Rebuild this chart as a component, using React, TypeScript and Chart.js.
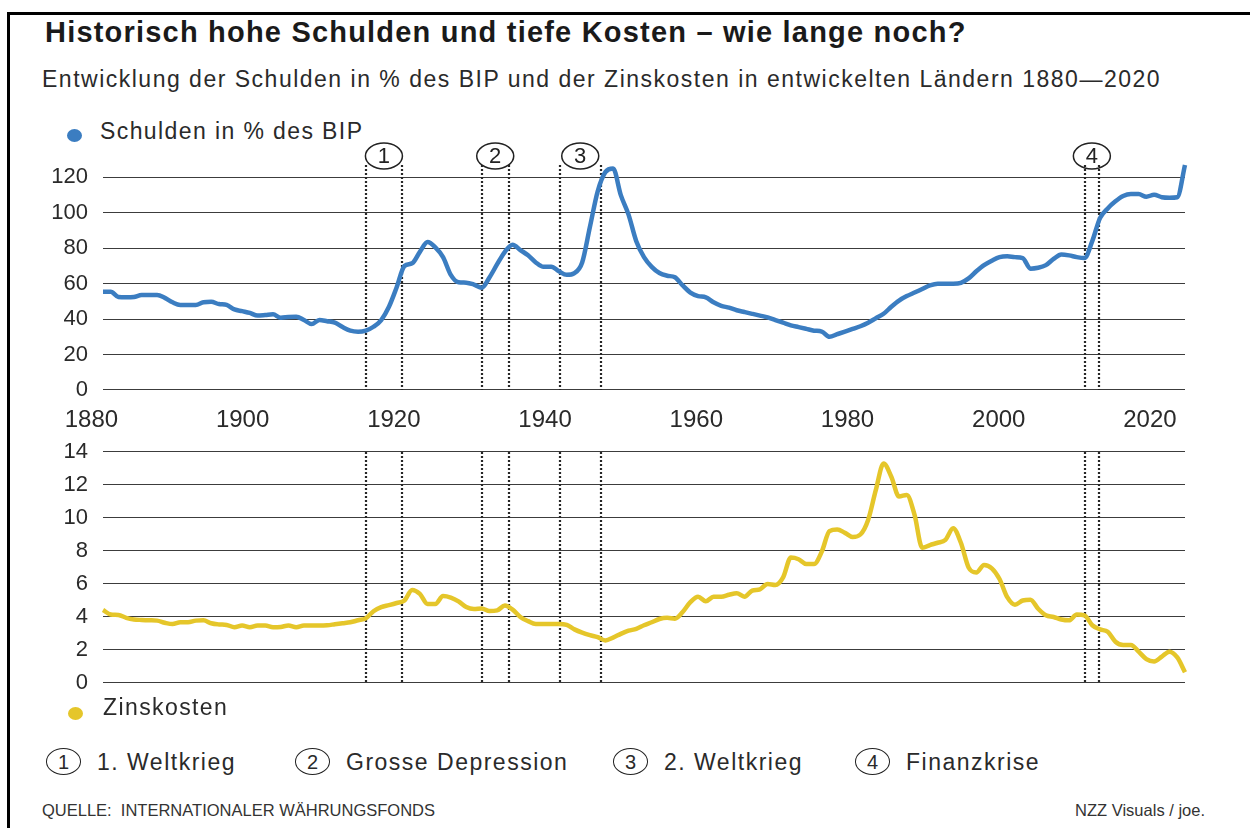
import React, { useEffect, useRef } from "react";
import { Chart, registerables } from "chart.js";

Chart.register(...registerables);

if (typeof document !== "undefined") document.body.style.margin = "0";

const FONT = '"Liberation Sans", Arial, sans-serif';
const BLUE = "#3b7dc1";
const YELLOW = "#e5c62a";
const GRID = "#3c3c3c";
const TEXT = "#2a2a2a";

// ---- data (annual values, 1880 – 2020) ----
const FIRST_YEAR = 1880;

const DEBT_PCT_GDP = [
  // 1880-1889
  55.5, 55.5, 52.5, 52.3, 52.5, 53.6, 53.6, 53.6, 52.0, 49.5,
  // 1890-1899
  48.0, 48.0, 48.0, 49.5, 49.8, 48.5, 48.0, 45.5, 44.5, 43.5,
  // 1900-1909
  42.0, 42.3, 42.7, 40.8, 41.2, 41.4, 39.5, 37.2, 39.5, 38.8,
  // 1910-1919
  38.0, 35.5, 33.5, 32.9, 33.5, 35.7, 39.5, 47.0, 58.0, 70.0,
  // 1920-1929
  71.5, 78.0, 83.5, 80.5, 75.0, 65.0, 60.8, 60.6, 59.5, 57.7,
  // 1930-1939
  63.5, 71.0, 78.0, 82.0, 79.0, 76.0, 72.0, 69.5, 69.6, 67.0,
  // 1940-1949
  65.0, 66.0, 72.0, 92.0, 112.0, 123.0, 125.0, 110.0, 99.0, 84.0,
  // 1950-1959
  75.0, 69.5, 66.0, 64.5, 63.6, 59.0, 55.0, 53.0, 52.3, 49.5,
  // 1960-1969
  47.5, 46.5, 45.0, 44.0, 43.0, 42.0, 41.0, 39.5, 38.0, 36.5,
  // 1970-1979
  35.5, 34.5, 33.5, 33.0, 30.0, 31.5, 33.0, 34.5, 36.0, 38.0,
  // 1980-1989
  40.5, 43.0, 47.0, 50.5, 53.0, 55.0, 57.0, 59.0, 60.0, 60.0,
  // 1990-1999
  60.0, 60.5, 63.0, 67.0, 70.5, 73.0, 75.0, 75.5, 75.0, 74.5,
  // 2000-2009
  68.5, 69.0, 70.5, 74.0, 76.5, 76.0, 75.0, 74.5, 84.0, 97.0,
  // 2010-2019
  102.5, 106.5, 109.5, 110.6, 110.6, 109.1, 110.2, 108.8, 108.5, 108.8,
  // 2020
  127.0,
];

const INTEREST_COST = [
  // 1880-1889
  4.42, 4.15, 4.12, 3.95, 3.85, 3.82, 3.8, 3.78, 3.65, 3.57,
  // 1890-1899
  3.68, 3.68, 3.78, 3.8, 3.62, 3.55, 3.52, 3.38, 3.48, 3.38,
  // 1900-1909
  3.48, 3.48, 3.38, 3.4, 3.48, 3.38, 3.48, 3.48, 3.48, 3.5,
  // 1910-1919
  3.56, 3.62, 3.68, 3.8, 3.92, 4.35, 4.6, 4.72, 4.85, 5.0,
  // 1920-1929
  5.64, 5.4, 4.79, 4.79, 5.27, 5.18, 4.95, 4.6, 4.48, 4.52,
  // 1930-1939
  4.36, 4.4, 4.7, 4.45, 4.0, 3.75, 3.58, 3.58, 3.58, 3.58,
  // 1940-1949
  3.52, 3.25, 3.05, 2.9, 2.78, 2.58, 2.75, 2.98, 3.17, 3.28,
  // 1950-1959
  3.5, 3.68, 3.88, 3.95, 3.9, 4.3, 4.9, 5.23, 4.95, 5.23,
  // 1960-1969
  5.23, 5.35, 5.44, 5.23, 5.6, 5.68, 6.0, 5.94, 6.4, 7.6,
  // 1970-1979
  7.5, 7.21, 7.21, 7.96, 9.2, 9.3, 9.1, 8.85, 9.0, 9.88,
  // 1980-1989
  11.7, 13.3, 12.5, 11.3, 11.4, 10.2, 8.2, 8.36, 8.5, 8.67,
  // 1990-1999
  9.38, 8.5, 7.0, 6.7, 7.15, 6.95, 6.3, 5.2, 4.75, 5.0,
  // 2000-2009
  5.05, 4.5, 4.1, 4.0, 3.85, 3.8, 4.15, 4.1, 3.5, 3.25,
  // 2010-2019
  3.1, 2.5, 2.3, 2.3, 1.9, 1.45, 1.3, 1.6, 1.9, 1.55,
  // 2020
  0.65,
];

const YEAR_LABELS = [1880, 1900, 1920, 1940, 1960, 1980, 2000, 2020];
const DEBT_TICKS = [0, 20, 40, 60, 80, 100, 120];
const INTEREST_TICKS = [0, 2, 4, 6, 8, 10, 12, 14];

const EVENT_START = [1914, 1929, 1939.1, 2007];
const EVENT_END = [1918.7, 1932.5, 1944.4, 2008.9];
const EVENT_NAMES = ["1. Weltkrieg", "Grosse Depression", "2. Weltkrieg", "Finanzkrise"];

// ---- layout constants ----
const LEGEND_X = [46, 295, 613, 855];

const toPoints = (values: number[]) =>
  values.map((v, i) => ({ x: FIRST_YEAR + i, y: v }));

const eventLinesPlugin = {
  id: "eventLines",
  beforeDatasetsDraw(chart: any) {
    const { ctx, chartArea, scales } = chart;
    const xs = scales.x;
    ctx.save();
    ctx.strokeStyle = "#262626";
    ctx.lineWidth = 2.2;
    ctx.setLineDash([2, 2]);
    EVENT_START.forEach((s, i) => {
      [s, EVENT_END[i]].forEach((v) => {
        const px = Math.round(xs.getPixelForValue(v));
        ctx.beginPath();
        ctx.moveTo(px, chartArea.top);
        ctx.lineTo(px, chartArea.bottom);
        ctx.stroke();
      });
    });
    ctx.restore();
  },
};

const eventBadgesPlugin = {
  id: "eventBadges",
  afterDraw(chart: any) {
    const { ctx, chartArea, scales } = chart;
    const xs = scales.x;
    ctx.save();
    EVENT_START.forEach((s, i) => {
      const cx = (xs.getPixelForValue(s) + xs.getPixelForValue(EVENT_END[i])) / 2;
      const cy = chartArea.top - 9;
      ctx.beginPath();
      ctx.ellipse(cx, cy, 18.5, 13, 0, 0, Math.PI * 2);
      ctx.setLineDash([]);
      ctx.lineWidth = 1.5;
      ctx.strokeStyle = "#222";
      ctx.stroke();
      ctx.fillStyle = "#222";
      ctx.font = `22px ${FONT}`;
      ctx.textAlign = "center";
      ctx.textBaseline = "middle";
      ctx.fillText(String(i + 1), cx, cy + 1);
    });
    ctx.restore();
  },
};

const yTickFont = { family: FONT, size: 22 };

const fixYAxis = (s: any) => {
  s.width = 103;
  s.paddingTop = 0;
  s.paddingBottom = 0;
};

function App() {
  const topRef = useRef<HTMLCanvasElement | null>(null);
  const bottomRef = useRef<HTMLCanvasElement | null>(null);

  useEffect(() => {
    const top = new Chart(topRef.current as HTMLCanvasElement, {
      type: "line",
      data: {
        datasets: [
          {
            data: toPoints(DEBT_PCT_GDP),
            borderColor: BLUE,
            borderWidth: 4.5,
            pointRadius: 0,
            cubicInterpolationMode: "monotone",
            clip: false,
            xAxisID: "x",
            yAxisID: "y",
          } as any,
        ],
      },
      options: {
        responsive: false,
        animation: false,
        events: [],
        layout: { padding: { top: 25, right: 65, left: 0, bottom: 0 } },
        plugins: { legend: { display: false }, tooltip: { enabled: false } },
        scales: {
          x: { type: "linear", min: FIRST_YEAR, max: 2020, display: false },
          xl: {
            type: "linear",
            position: "bottom",
            min: FIRST_YEAR,
            max: 2023.1,
            grid: { display: false },
            border: { display: false },
            ticks: {
              labelOffset: -11.6,
              padding: 8,
              autoSkip: false,
              maxRotation: 0,
              color: TEXT,
              font: { family: FONT, size: 24 },
              callback: (v: any) => String(v),
            },
            afterBuildTicks: (s: any) => {
              s.ticks = YEAR_LABELS.map((v) => ({ value: v }));
            },
            afterFit: (s: any) => {
              s.height = 50;
              s.paddingLeft = 0;
              s.paddingRight = 0;
            },
          },
          y: {
            type: "linear",
            position: "left",
            min: 0,
            max: 127,
            grid: { color: GRID, lineWidth: 1.1, drawTicks: false },
            border: { display: false },
            ticks: {
              padding: 15,
              color: TEXT,
              font: yTickFont,
              callback: (v: any) => String(v),
            },
            afterBuildTicks: (s: any) => {
              s.ticks = DEBT_TICKS.map((v) => ({ value: v }));
            },
            afterFit: fixYAxis,
          },
        },
      } as any,
      plugins: [eventLinesPlugin, eventBadgesPlugin],
    });

    const bottom = new Chart(bottomRef.current as HTMLCanvasElement, {
      type: "line",
      data: {
        datasets: [
          {
            data: toPoints(INTEREST_COST),
            borderColor: YELLOW,
            borderWidth: 4.5,
            pointRadius: 0,
            cubicInterpolationMode: "monotone",
            clip: false,
          } as any,
        ],
      },
      options: {
        responsive: false,
        animation: false,
        events: [],
        layout: { padding: { top: 16, right: 65, left: 0, bottom: 17 } },
        plugins: { legend: { display: false }, tooltip: { enabled: false } },
        scales: {
          x: { type: "linear", min: FIRST_YEAR, max: 2020, display: false },
          y: {
            type: "linear",
            position: "left",
            min: 0,
            max: 14,
            grid: { color: GRID, lineWidth: 1.1, drawTicks: false },
            border: { display: false },
            ticks: {
              padding: 15,
              color: TEXT,
              font: yTickFont,
              callback: (v: any) => String(v),
            },
            afterBuildTicks: (s: any) => {
              s.ticks = INTEREST_TICKS.map((v) => ({ value: v }));
            },
            afterFit: fixYAxis,
          },
        },
      } as any,
      plugins: [eventLinesPlugin],
    });

    return () => {
      top.destroy();
      bottom.destroy();
    };
  }, []);

  const abs = (s: React.CSSProperties): React.CSSProperties => ({
    position: "absolute",
    whiteSpace: "nowrap",
    lineHeight: 1,
    ...s,
  });

  return (
    <div
      style={{
        position: "relative",
        width: 1250,
        height: 828,
        background: "#fff",
        overflow: "hidden",
        fontFamily: FONT,
        color: TEXT,
      }}
    >
      {/* frame */}
      <div style={abs({ left: 7, top: 12, width: 1243, height: 3, background: "#000" })} />
      <div style={abs({ left: 7, top: 12, width: 3, height: 816, background: "#000" })} />

      <div style={abs({ left: 45, top: 18, fontSize: 29, fontWeight: 700, letterSpacing: 1.2, color: "#1a1a1a" })}>
        Historisch hohe Schulden und tiefe Kosten – wie lange noch?
      </div>
      <div style={abs({ left: 42, top: 68, fontSize: 23, letterSpacing: 1.5 })}>
        Entwicklung der Schulden in % des BIP und der Zinskosten in entwickelten Ländern 1880—2020
      </div>

      {/* top legend */}
      <div style={abs({ left: 67, top: 128.5, width: 15, height: 13, borderRadius: "50%", background: BLUE })} />
      <div style={abs({ left: 100, top: 120, fontSize: 23, letterSpacing: 1.4 })}>Schulden in % des BIP</div>

      <canvas ref={topRef} width={1250} height={300} style={{ position: "absolute", left: 0, top: 140 }} />
      <canvas ref={bottomRef} width={1250} height={264} style={{ position: "absolute", left: 0, top: 436 }} />

      {/* bottom legend */}
      <div style={abs({ left: 68, top: 706.5, width: 15, height: 13, borderRadius: "50%", background: YELLOW })} />
      <div style={abs({ left: 103, top: 696, fontSize: 23, letterSpacing: 1.4 })}>Zinskosten</div>

      {EVENT_NAMES.map((name, i) => (
        <React.Fragment key={name}>
          <div
            style={abs({
              left: LEGEND_X[i],
              top: 748,
              width: 33,
              height: 25,
              border: "1.5px solid #222",
              borderRadius: "50%",
              display: "flex",
              alignItems: "center",
              justifyContent: "center",
              fontSize: 20,
            })}
          >
            {i + 1}
          </div>
          <div style={abs({ left: LEGEND_X[i] + 51, top: 751, fontSize: 23, letterSpacing: 1.5 })}>{name}</div>
        </React.Fragment>
      ))}

      <div style={abs({ left: 42, top: 802, fontSize: 16.5, color: "#333" })}>
        QUELLE:&nbsp; INTERNATIONALER WÄHRUNGSFONDS
      </div>
      <div style={abs({ right: 45, top: 802, fontSize: 16.5, color: "#333" })}>NZZ Visuals / joe.</div>
    </div>
  );
}

export default App;
